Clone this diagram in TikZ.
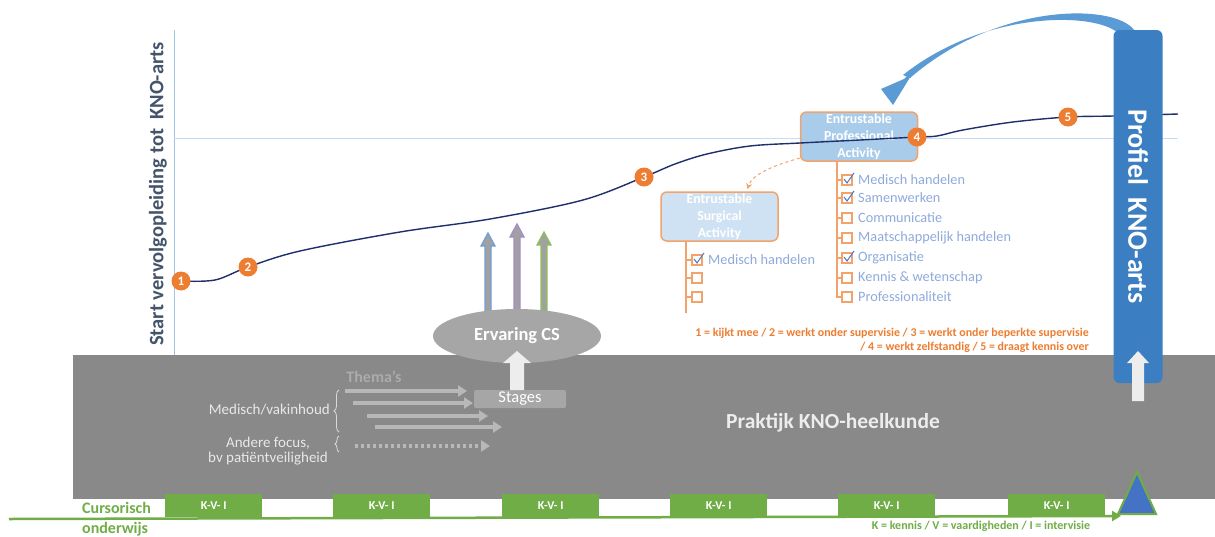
\documentclass[tikz,border=0pt]{standalone}
\usepackage{fontspec}
\setmainfont{Carlito}
\usetikzlibrary{shapes.geometric,arrows.meta,decorations.pathreplacing,calc}
\definecolor{navy}{HTML}{1F2F6B}
\definecolor{axisblue}{HTML}{9DC3E6}
\definecolor{hlineblue}{HTML}{C5DDF2}
\definecolor{orng}{HTML}{ED7D31}
\definecolor{lorange}{HTML}{F2A36B}
\definecolor{epafill}{HTML}{A9CCEB}
\definecolor{esafill}{HTML}{CFE2F3}
\definecolor{itemtxt}{HTML}{8FAADC}
\definecolor{checkc}{HTML}{4F74C8}
\definecolor{band}{HTML}{898989}
\definecolor{ellgray}{HTML}{A6A6A6}
\definecolor{grn}{HTML}{70AD47}
\definecolor{barblue}{HTML}{3B7EC2}
\definecolor{triblue}{HTML}{4472C4}
\definecolor{cblue}{HTML}{5B9BD5}
\definecolor{slate}{HTML}{44546A}
\definecolor{arrB}{HTML}{6FA0D8}
\definecolor{arrP}{HTML}{A88BCB}
\definecolor{arrG}{HTML}{8DC35A}
\tikzset{
  num/.style={circle, fill=orng, text=white, inner sep=0pt, minimum size=19pt, font=\bfseries\fontsize{13}{13}\selectfont},
  actbox/.style={draw=lorange, line width=1.5pt, rounded corners=6pt, minimum width=117pt, minimum height=49pt, inner sep=0pt, align=center, text=white, font=\bfseries\fontsize{13.8}{17}\selectfont},
  chk/.style={draw=lorange, line width=1.3pt},
  itemtext/.style={anchor=west, inner sep=0pt, text=itemtxt, font=\fontsize{14.3}{15}\selectfont},
  legend/.style={anchor=east, inner sep=0pt, text=orng, font=\bfseries\fontsize{11.9}{12}\selectfont},
  themearrow/.style={draw=black!28, line width=3.5pt, -{Triangle[length=9pt,width=11pt]}},
  bandtext/.style={inner sep=0pt, text=black!9, font=\fontsize{15}{16}\selectfont},
  kvi/.style={fill=grn, anchor=north west, minimum width=97pt, minimum height=23pt, inner sep=0pt, text=white, font=\bfseries\fontsize{12}{12}\selectfont},
  grntext/.style={inner sep=0pt, text=grn, font=\bfseries\fontsize{16}{17}\selectfont}
}
\begin{document}
\begin{tikzpicture}[x=1pt,y=-1pt]
\useasboundingbox (0,0) rectangle (1215,536);
\fill[white] (0,0) rectangle (1215,536);

% axes
\draw[axisblue, line width=1pt] (174,30) -- (174,355);
\draw[hlineblue, line width=1pt] (174,138) -- (1178,138);
\node[rotate=90, inner sep=0pt, text=slate, font=\bfseries\fontsize{20.5}{22}\selectfont] (title) at (158,194) {Start vervolgopleiding tot\ \ KNO-arts};

% gray band
\fill[band] (73,355) rectangle (1215,499);

% coloured arrows into the ellipse
\foreach \x/\t/\c in {488/233/arrB, 517/224/arrP, 544/232/arrG}
  \draw[draw=\c, fill=black!37, line width=1.3pt]
    (\x-3,318) -- (\x-3,\t+13) -- (\x-7,\t+13) -- (\x,\t) -- (\x+7,\t+13) -- (\x+3,\t+13) -- (\x+3,318) -- cycle;

\node[ellipse, fill=ellgray, minimum width=168pt, minimum height=54pt, inner sep=0pt, text=white, font=\bfseries\fontsize{18.5}{20}\selectfont] (cs) at (517,336) {Ervaring CS};

\node[fill=ellgray, rounded corners=2pt, minimum width=92pt, minimum height=18pt, inner sep=0pt, text=white, font=\fontsize{16.5}{17}\selectfont] (stages) at (520,399) {Stages};
\fill[black!7] (510,390) -- (510,363) -- (503,363) -- (517,351) -- (531,363) -- (524,363) -- (524,390) -- cycle;

% themes
\node[inner sep=0pt, text=black!33, font=\bfseries\fontsize{16}{17}\selectfont] (thema) at (374,377) {Thema’s};
\draw[themearrow] (345,391) -- (467,391);
\draw[themearrow] (353,403) -- (473,403);
\draw[themearrow] (367,416) -- (488,416);
\draw[themearrow] (375,427) -- (502,427);
\draw[themearrow, dash pattern=on 3pt off 3pt] (355,446) -- (490,446);
\node[bandtext, anchor=east] (medvak) at (330,410) {Medisch/vakinhoud};
\node[bandtext] (andere) at (268,443) {Andere focus,};
\node[bandtext] (bv) at (268,459) {bv patiëntveiligheid};
\draw[black!15, line width=0.8pt, decorate, decoration={brace, amplitude=5pt}] (339,432) -- (339,390);
\draw[black!15, line width=0.8pt, decorate, decoration={brace, amplitude=4pt}] (339,452) -- (339,436);

\node[inner sep=0pt, text=black!7, font=\bfseries\fontsize{21.5}{22}\selectfont] (praktijk) at (833,423) {Praktijk KNO-heelkunde};

% EPA / ESA boxes
\node[actbox, fill=epafill] (epa) at (859,136.5) {Entrustable\\Professional\\Activity};
\node[actbox, fill=esafill] (esa) at (719.5,216.5) {Entrustable\\Surgical\\Activity};
\draw[lorange, dashed, line width=1pt, -{Stealth[length=6pt,width=6pt]}] (epa.200) .. controls (775,165) and (752,174) .. ($(esa.north)+(28,-2)$);

% learning curve
\draw[navy, line width=1.4pt] plot[smooth, tension=0.55] coordinates {(181,281) (215,280) (248,267) (300,251) (400,232) (490,219) (583,200) (644,177) (675,164) (707,154) (750,146) (800,143) (860,140) (917,137) (937,136) (963,130) (1013,122) (1068,117) (1113,116) (1178,114)};
\node[num] (n1) at (181,281) {1};
\node[num] (n2) at (248,267) {2};
\node[num] (n3) at (644,177) {3};
\node[num] (n4) at (917,137) {4};
\node[num] (n5) at (1068,117) {5};

% EPA checklist
\draw[chk] (837,161) -- (837,297) -- (842,297);
\foreach \y/\t in {180/{Medisch handelen}, 198/Samenwerken, 218/Communicatie, 238/{Maatschappelijk handelen}, 258/Organisatie, 278/{Kennis \& wetenschap}, 297/Professionaliteit}{
  \draw[chk] (837,\y) -- (842,\y);
  \draw[chk, fill=white] (842,\y-5) rectangle (852,\y+5);
  \node[itemtext] (e\y) at (858,\y) {\t};
}
\foreach \y in {180,198,258}
  \draw[checkc, line width=1pt] (844,\y-1) -- (847,\y+3) -- (854,\y-7);

% ESA checklist
\draw[chk] (686,241) -- (686,313);
\foreach \y in {260,278,297}{
  \draw[chk] (686,\y) -- (692,\y);
  \draw[chk, fill=white] (692,\y-5) rectangle (702,\y+5);
}
\draw[checkc, line width=1pt] (694,259) -- (697,263) -- (704,253);
\node[itemtext] (s1) at (708,260) {Medisch handelen};

% legend
\node[legend] (leg1) at (1089,333) {1 = kijkt mee / 2 = werkt onder supervisie / 3 = werkt onder beperkte supervisie};
\node[legend] (leg2) at (1089,347) {/ 4 = werkt zelfstandig / 5 = draagt kennis over};

% curved feedback arrow
\fill[cblue] (1136,33) .. controls (1122,3) and (1000,0) .. (910,78) -- (903,75) .. controls (985,10) and (1095,12) .. (1118,33) -- cycle;
\fill[cblue] (893,105) -- (881,89) -- (904,79) -- (917,66) -- cycle;

% profile bar
\node[rotate=-90, fill=barblue, rounded corners=6pt, minimum width=353pt, minimum height=49pt, inner sep=0pt, text=white, font=\bfseries\fontsize{28}{30}\selectfont] (profile) at (1138,206.5) {Profiel\ \ KNO-arts};
\fill[black!7] (1132,401) -- (1132,363) -- (1127,363) -- (1138,351) -- (1149,363) -- (1144,363) -- (1144,401) -- cycle;

% bottom strip
\draw[grn, line width=2.5pt, -{Triangle[length=9pt,width=10pt]}] (9,519) -- (1121,516);
\foreach \x in {165,333,502,670,838,1008}
  \node[kvi] (k\x) at (\x,494) {K-V- I};
\draw[grn, line width=2pt, fill=triblue] (1137,472) -- (1156,514) -- (1118,514) -- cycle;
\node[grntext, anchor=west] (curs) at (82,508) {Cursorisch};
\node[grntext, anchor=west] (ond) at (82,529) {onderwijs};
\node[inner sep=0pt, text=grn, font=\bfseries\fontsize{12}{12}\selectfont] (kleg) at (981,526) {K = kennis / V = vaardigheden / I = intervisie};
\end{tikzpicture}
\end{document}
